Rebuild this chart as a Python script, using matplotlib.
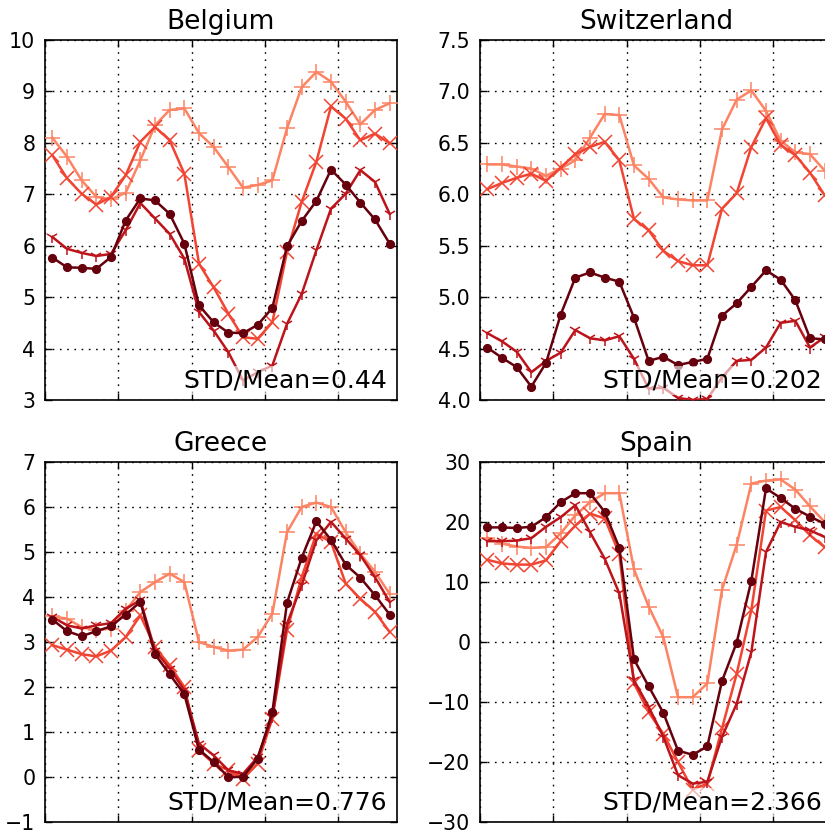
import numpy as np
import matplotlib
matplotlib.use("Agg")
import matplotlib.pyplot as plt

hours = np.arange(24) + 0.5

countries = ["Belgium", "Switzerland", "Greece", "Spain"]
ratios = ["0.44", "0.202", "0.776", "2.366"]
ylims = [(3, 10), (4.0, 7.5), (-1, 7), (-30, 30)]
yticks = [np.arange(3, 11, 1), np.arange(4.0, 7.51, 0.5), np.arange(-1, 8, 1), np.arange(-30, 31, 10)]
ytick_fmt = ["{:.0f}", "{:.1f}", "{:.0f}", "{:.0f}"]

belgium_dot = [5.77, 5.58, 5.57, 5.55, 5.78, 6.49, 6.92, 6.88, 6.62, 6.04, 4.84, 4.51,
               4.31, 4.30, 4.46, 4.79, 5.99, 6.48, 6.87, 7.48, 7.19, 6.84, 6.51, 6.04]
belgium_tri = [6.17, 5.94, 5.86, 5.80, 5.84, 6.30, 6.83, 6.53, 6.23, 5.75, 4.71, 4.35,
               3.93, 3.38, 3.54, 3.67, 4.48, 5.06, 5.91, 6.72, 7.01, 7.47, 7.24, 6.62]
belgium_x = [7.76, 7.31, 7.01, 6.80, 6.95, 7.37, 8.02, 8.31, 8.05, 7.40, 5.65, 5.19,
             4.68, 4.22, 4.19, 4.51, 5.88, 6.85, 7.63, 8.71, 8.47, 8.05, 8.18, 7.99]
belgium_plus = [8.10, 7.73, 7.27, 6.95, 6.90, 7.03, 7.66, 8.34, 8.64, 8.67, 8.19, 7.92,
                7.53, 7.13, 7.18, 7.27, 8.28, 9.08, 9.38, 9.19, 8.80, 8.36, 8.64, 8.77]

swiss_dot = [4.51, 4.41, 4.32, 4.13, 4.36, 4.83, 5.19, 5.24, 5.19, 5.15, 4.80, 4.38,
             4.42, 4.34, 4.37, 4.40, 4.82, 4.94, 5.10, 5.26, 5.17, 4.97, 4.60, 4.59]
swiss_tri = [4.65, 4.57, 4.47, 4.27, 4.38, 4.46, 4.68, 4.60, 4.58, 4.62, 4.40, 4.11,
             4.12, 4.02, 4.00, 4.01, 4.22, 4.38, 4.39, 4.51, 4.75, 4.77, 4.51, 4.61]
swiss_x = [6.05, 6.11, 6.16, 6.20, 6.13, 6.26, 6.39, 6.46, 6.51, 6.33, 5.76, 5.65,
           5.45, 5.35, 5.31, 5.31, 5.86, 6.01, 6.46, 6.74, 6.48, 6.38, 6.21, 5.99]
swiss_plus = [6.29, 6.29, 6.27, 6.25, 6.18, 6.25, 6.33, 6.55, 6.78, 6.77, 6.28, 6.15,
              5.97, 5.95, 5.94, 5.94, 6.63, 6.92, 7.01, 6.81, 6.52, 6.41, 6.39, 6.23]

greece_dot = [3.50, 3.24, 3.13, 3.24, 3.35, 3.61, 3.89, 2.73, 2.28, 1.84, 0.61, 0.33,
              0.00, 0.00, 0.41, 1.44, 3.87, 4.87, 5.68, 5.27, 4.72, 4.43, 4.04, 3.61]
greece_tri = [3.56, 3.37, 3.30, 3.37, 3.42, 3.74, 3.93, 2.81, 2.41, 1.93, 0.74, 0.48,
              0.15, 0.07, 0.44, 1.33, 3.41, 4.26, 5.26, 5.67, 5.30, 4.93, 4.44, 3.89]
greece_x = [2.93, 2.83, 2.73, 2.68, 2.81, 3.11, 3.59, 2.89, 2.48, 2.00, 0.59, 0.30,
            0.15, -0.04, 0.30, 1.30, 3.26, 4.44, 5.41, 5.22, 4.30, 3.96, 3.67, 3.22]
greece_plus = [3.57, 3.52, 3.33, 3.26, 3.30, 3.70, 4.11, 4.33, 4.52, 4.33, 3.00, 2.89,
               2.81, 2.83, 3.11, 3.63, 5.44, 6.00, 6.10, 6.00, 5.44, 4.96, 4.56, 4.07]

spain_dot = [19.1, 19.1, 19.0, 19.2, 20.8, 23.3, 24.8, 24.8, 21.7, 15.7, -2.9, -7.4,
             -11.8, -18.1, -18.8, -17.4, -6.5, -0.1, 10.2, 25.6, 24.0, 22.2, 20.9, 19.7]
spain_tri = [16.8, 16.8, 16.9, 17.3, 19.2, 20.8, 22.8, 18.3, 13.9, 8.1, -6.4, -10.8,
             -15.8, -22.2, -23.6, -23.3, -15.8, -10.3, -1.7, 15.0, 20.0, 19.2, 18.6, 17.5]
spain_x = [13.7, 13.1, 12.9, 12.9, 13.6, 16.8, 19.4, 21.4, 20.6, 14.7, -6.9, -11.7,
           -15.3, -20.0, -24.6, -23.6, -14.4, -5.3, 5.3, 21.9, 22.5, 20.3, 17.8, 15.8]
spain_plus = [17.4, 16.4, 15.9, 15.7, 15.8, 18.1, 21.1, 23.3, 24.8, 24.8, 12.1, 5.9,
              0.8, -9.2, -9.2, -6.9, 8.7, 16.2, 26.4, 26.9, 27.1, 25.4, 22.6, 20.0]

data = {
    "Belgium": (belgium_plus, belgium_x, belgium_tri, belgium_dot),
    "Switzerland": (swiss_plus, swiss_x, swiss_tri, swiss_dot),
    "Greece": (greece_plus, greece_x, greece_tri, greece_dot),
    "Spain": (spain_plus, spain_x, spain_tri, spain_dot),
}

reds = matplotlib.colormaps["Reds"]
colors = [reds(0.42), reds(0.6), reds(0.8), reds(1.0)]
markers = ["+", "x", "1", "o"]
msizes = [12, 10, 9, 5.5]

plt.rcParams["font.family"] = ["DejaVu Sans"]
fig = plt.figure(figsize=(8.25, 8.33), dpi=100)
W, H = 825.0, 833.0
boxes = [(45, 40), (480, 40), (45, 462), (480, 462)]
aw, ah = 352.0, 360.0


def fmt_tick(f, v):
    return f.format(v).replace("-", "\u2212")


for k, name in enumerate(countries):
    x0, y0 = boxes[k]
    ax = fig.add_axes([x0 / W, 1 - (y0 + ah) / H, aw / W, ah / H])
    for s, series in enumerate(data[name]):
        ax.plot(hours, series, color=colors[s], marker=markers[s], markersize=msizes[s],
                markeredgewidth=1.1, markeredgecolor=colors[s], markerfacecolor=colors[s],
                linewidth=1.8, zorder=3 + s)
    ax.set_xlim(0, 24)
    ax.set_ylim(*ylims[k])
    ax.set_xticks([0, 5, 10, 15, 20])
    ax.set_xticklabels([])
    ax.set_yticks(yticks[k])
    ax.set_yticklabels([fmt_tick(ytick_fmt[k], v) for v in yticks[k]])
    ax.tick_params(direction="in", length=5, width=1, top=True, right=True,
                   labelsize=14.8, pad=7, colors="black")
    ax.grid(True, color="black", linestyle=(0, (1.2, 4)), linewidth=1.0)
    for sp in ax.spines.values():
        sp.set_linewidth(1.2)
    ax.set_title(name, fontsize=19, pad=8)
    ax.text(0.972, 0.035, "STD/Mean=" + ratios[k], transform=ax.transAxes,
            ha="right", va="baseline", fontsize=18, zorder=20,
            bbox=dict(boxstyle="square,pad=0.1", facecolor="white", edgecolor="none", alpha=0.6))

fig.savefig("out.png", dpi=100)
